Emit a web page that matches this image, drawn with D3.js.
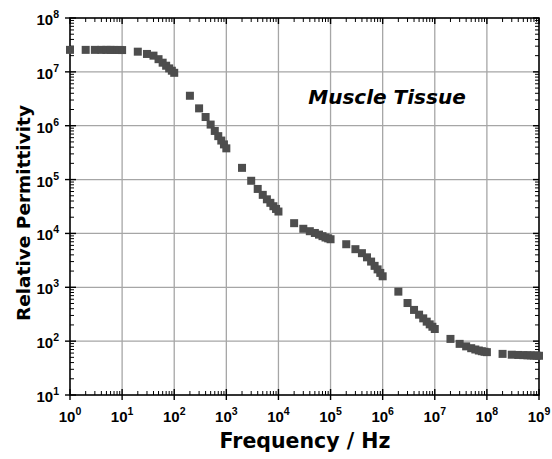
<!DOCTYPE html>
<html><head><meta charset="utf-8">
<script src="https://cdn.jsdelivr.net/npm/d3@7"></script>
<style>body{margin:0;background:#fff}svg{display:block}</style>
</head><body><svg id="c" width="552" height="459"></svg>
<script>
const frequency = [1,2,3,4,5,6,7,8,9,10,
 20,30,40,50,60,70,80,90,100,
 200,300,400,500,600,700,800,900,1000,
 2000,3000,4000,5000,6000,7000,8000,9000,1e4,
 2e4,3e4,4e4,5e4,6e4,7e4,8e4,9e4,1e5,
 2e5,3e5,4e5,5e5,6e5,7e5,8e5,9e5,1e6,
 2e6,3e6,4e6,5e6,6e6,7e6,8e6,9e6,1e7,
 2e7,3e7,4e7,5e7,6e7,7e7,8e7,9e7,1e8,
 2e8,3e8,4e8,5e8,6e8,7e8,8e8,9e8,1e9];
const permittivity = [2.56e7,2.56e7,2.56e7,2.56e7,2.56e7,2.56e7,2.55e7,2.55e7,2.55e7,2.54e7,
 2.37e7,2.15e7,2.0e7,1.72e7,1.48e7,1.3e7,1.16e7,1.05e7,9.6e6,
 3.6e6,2.1e6,1.45e6,1.05e6,8.0e5,6.4e5,5.3e5,4.5e5,3.8e5,
 1.65e5,9.5e4,6.7e4,5.2e4,4.3e4,3.7e4,3.2e4,2.85e4,2.55e4,
 1.55e4,1.22e4,1.1e4,1.02e4,9.5e3,8.9e3,8.4e3,8.1e3,7.8e3,
 6.3e3,5.1e3,4.3e3,3.6e3,3.0e3,2.5e3,2.15e3,1.85e3,1.6e3,
 830,510,380,310,265,230,205,185,168,
 110,89,80,74,70,67,65,63.5,62.5,
 58,56,55.4,55,54.6,54.3,54,53.8,53.5];
const xTickExps = [0,1,2,3,4,5,6,7,8,9];
const yTickExps = [1,2,3,4,5,6,7,8];
const annotation = "Muscle Tissue";
const xTitle = "Frequency / Hz";
const yTitle = "Relative Permittivity";

const svg = d3.select("#c");
const L=70,R=539,T=18,B=395;
const x = d3.scaleLog().domain([1,1e9]).range([L,R]);
const y = d3.scaleLog().domain([10,1e8]).range([B,T]);

// grid
const g = svg.append("g");
g.selectAll(".gx").data(xTickExps.slice(1,-1)).enter().append("line")
 .attr("x1",d=>x(10**d)).attr("x2",d=>x(10**d)).attr("y1",T).attr("y2",B)
 .attr("stroke","#a6a6a6").attr("stroke-width",1.3);
g.selectAll(".gy").data(yTickExps.slice(1,-1)).enter().append("line")
 .attr("y1",d=>y(10**d)).attr("y2",d=>y(10**d)).attr("x1",L).attr("x2",R)
 .attr("stroke","#a6a6a6").attr("stroke-width",1.3);

// minor ticks
const minorX=[], minorY=[];
xTickExps.slice(0,-1).forEach(e=>{for(let m=2;m<10;m++)minorX.push(m*10**e);});
yTickExps.slice(0,-1).forEach(e=>{for(let m=2;m<10;m++)minorY.push(m*10**e);});
const tk = svg.append("g").attr("stroke","#000").attr("stroke-width",1);
minorX.forEach(v=>{
  tk.append("line").attr("x1",x(v)).attr("x2",x(v)).attr("y1",B).attr("y2",B-4);
  tk.append("line").attr("x1",x(v)).attr("x2",x(v)).attr("y1",T).attr("y2",T+4);
});
minorY.forEach(v=>{
  tk.append("line").attr("y1",y(v)).attr("y2",y(v)).attr("x1",L).attr("x2",L+4);
  tk.append("line").attr("y1",y(v)).attr("y2",y(v)).attr("x1",R).attr("x2",R-4);
});
xTickExps.forEach(e=>{
  tk.append("line").attr("x1",x(10**e)).attr("x2",x(10**e)).attr("y1",B+5).attr("y2",B-6).attr("stroke-width",1.4);
  tk.append("line").attr("x1",x(10**e)).attr("x2",x(10**e)).attr("y1",T).attr("y2",T+6).attr("stroke-width",1.4);
});
yTickExps.forEach(e=>{
  tk.append("line").attr("y1",y(10**e)).attr("y2",y(10**e)).attr("x1",L-5).attr("x2",L+6).attr("stroke-width",1.4);
  tk.append("line").attr("y1",y(10**e)).attr("y2",y(10**e)).attr("x1",R).attr("x2",R-6).attr("stroke-width",1.4);
});

// frame
svg.append("rect").attr("x",L).attr("y",T).attr("width",R-L).attr("height",B-T)
 .attr("fill","none").attr("stroke","#000").attr("stroke-width",1.6);

// tick labels
const lf = "'Liberation Sans', Arial, sans-serif";
xTickExps.forEach(e=>{
  const t = svg.append("text").attr("x",x(10**e)).attr("y",B+27).attr("text-anchor","middle")
   .attr("font-family",lf).attr("font-weight","bold").attr("font-size",15).attr("fill","#000");
  t.append("tspan").text("10");
  t.append("tspan").attr("dy",-7).attr("font-size",10.5).text(e);
});
yTickExps.forEach(e=>{
  const t = svg.append("text").attr("x",L-11).attr("y",y(10**e)+7).attr("text-anchor","end")
   .attr("font-family",lf).attr("font-weight","bold").attr("font-size",15).attr("fill","#000");
  t.append("tspan").text("10");
  t.append("tspan").attr("dy",-7).attr("font-size",10.5).text(e);
});

// points
const s=8;
svg.append("g").selectAll("rect").data(frequency.map((f,i)=>[f,permittivity[i]])).enter().append("rect")
 .attr("x",d=>x(d[0])-s/2).attr("y",d=>y(d[1])-s/2).attr("width",s).attr("height",s)
 .attr("fill","#4d4d4d");

// titles
const df="'DejaVu Sans', Verdana, sans-serif";
svg.append("text").attr("x",305).attr("y",448).attr("text-anchor","middle")
 .attr("font-family",df).attr("font-weight","bold").attr("font-size",20.5).text(xTitle);
svg.append("text").attr("transform","translate(30,213) rotate(-90)").attr("text-anchor","middle")
 .attr("font-family",df).attr("font-weight","bold").attr("font-size",18.5).text(yTitle);
svg.append("text").attr("x",387).attr("y",104).attr("text-anchor","middle")
 .attr("font-family",df).attr("font-weight","bold").attr("font-style","italic").attr("font-size",20).text(annotation);
</script></body></html>
